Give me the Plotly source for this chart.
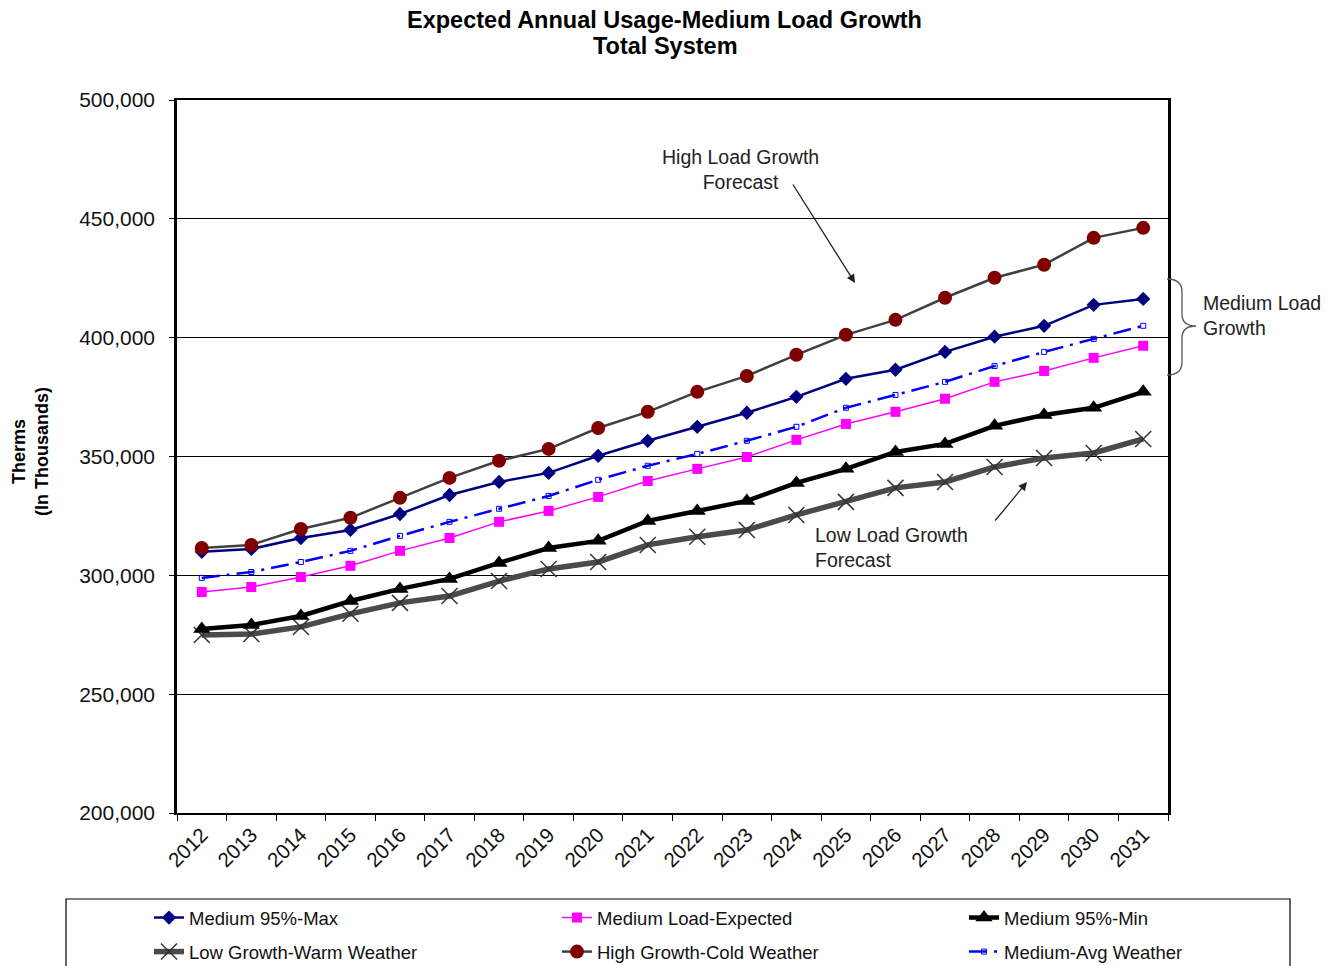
import plotly.graph_objects as go

years = [str(y) for y in range(2012, 2032)]
y_ticks = [200000, 250000, 300000, 350000, 400000, 450000, 500000]
y_tick_labels = ["200,000", "250,000", "300,000", "350,000", "400,000", "450,000", "500,000"]

medium_max = [309900, 311100, 315700, 319100, 325800, 333800, 339300, 343100, 350300, 356600,
              362500, 368400, 375100, 382700, 386500, 394000, 400400, 405000, 413800, 416300]
medium_expected = [293000, 295100, 299300, 304000, 310300, 315700, 322500, 327100, 333000, 339700,
                   344800, 349800, 357000, 363700, 368800, 374300, 381400, 386000, 391500, 396600]
medium_min = [277400, 279100, 282900, 289200, 294300, 298500, 305200, 311500, 314500, 322900,
              327100, 331300, 338900, 344800, 351900, 355300, 362900, 367500, 370500, 377200]
low_warm = [274900, 275300, 278300, 283800, 288400, 291300, 297600, 302700, 305600, 312800,
            316200, 319100, 325400, 330900, 336800, 339300, 345600, 349400, 351500, 357400]
high_cold = [311500, 312800, 319500, 324200, 332600, 341000, 348200, 353200, 362000, 368800,
             377200, 383900, 392800, 401200, 407500, 416800, 425200, 430700, 442000, 446200]
medium_avg = [298900, 301400, 305600, 310300, 316600, 322500, 328000, 333400, 340200, 346100,
              351100, 356600, 362500, 370500, 375900, 381400, 388100, 394000, 399500, 405000]

# page is 1337x966; the figure div sits at (8, 8) because of the body margin
OFF = 8
WF, HF = 1337 - OFF, 966 - OFF
L, R, T, B = 177, 1168, 100, 813   # plot area in page pixels
FONT = "Liberation Sans, Arial, sans-serif"


def px(x):
    return (x - L) / (R - L)


def py(y):
    return (B - y) / (B - T)


def cx(x):
    return (x - OFF) / WF


def cy(y):
    return 1 - (y - OFF) / HF


fig = go.Figure()

fig.add_trace(go.Scatter(x=years, y=medium_max, name="Medium 95%-Max", mode="lines+markers",
                         line=dict(color="#000080", width=2.5),
                         marker=dict(symbol="diamond", size=11, color="#000080"),
                         legend="legend", legendgroup="a"))
fig.add_trace(go.Scatter(x=years, y=low_warm, name="Low Growth-Warm Weather", mode="lines+markers",
                         line=dict(color="#4a4a4a", width=5.5),
                         marker=dict(symbol="x-thin", size=16, color="#333333",
                                     line=dict(color="#333333", width=1.5)),
                         legend="legend", legendgroup="b"))
fig.add_trace(go.Scatter(x=years, y=medium_expected, name="Medium Load-Expected", mode="lines+markers",
                         line=dict(color="#FF00FF", width=1.5),
                         marker=dict(symbol="square", size=10, color="#FF00FF"),
                         legend="legend2", legendgroup="c"))
fig.add_trace(go.Scatter(x=years, y=high_cold, name="High Growth-Cold Weather", mode="lines+markers",
                         line=dict(color="#404040", width=2.5),
                         marker=dict(symbol="circle", size=14, color="#800000"),
                         legend="legend2", legendgroup="d"))
fig.add_trace(go.Scatter(x=years, y=medium_min, name="Medium 95%-Min", mode="lines+markers",
                         line=dict(color="#000000", width=4.5),
                         marker=dict(symbol="triangle-up", size=15, color="#000000"),
                         legend="legend3", legendgroup="e"))
fig.add_trace(go.Scatter(x=years, y=medium_avg, name="Medium-Avg Weather", mode="lines+markers",
                         line=dict(color="#0000FF", width=2.5, dash="18px,7px,3px,7px"),
                         marker=dict(symbol="square-open", size=5, color="#0000FF",
                                     line=dict(color="#0000FF", width=1)),
                         legend="legend3", legendgroup="f"))

leg_common = dict(orientation="v", xref="container", yref="container", xanchor="left", yanchor="top",
                  font=dict(family=FONT, size=18.5, color="#111111"), bgcolor="rgba(0,0,0,0)",
                  tracegroupgap=7, itemwidth=30)
leg_top = cy(899)

annotations = [
    dict(text="<b>Expected Annual Usage-Medium Load Growth</b>", xref="paper", yref="paper",
         x=px(664), y=py(20), xanchor="center", yanchor="middle", showarrow=False,
         font=dict(family=FONT, size=23.5, color="#000000")),
    dict(text="<b>Total System</b>", xref="paper", yref="paper",
         x=px(665), y=py(46), xanchor="center", yanchor="middle", showarrow=False,
         font=dict(family=FONT, size=23.5, color="#000000")),
    dict(text="<b>Therms<br>(In Thousands)</b>", xref="paper", yref="paper", x=px(30), y=py(452),
         xanchor="center", yanchor="middle", textangle=-90, showarrow=False,
         font=dict(family=FONT, size=18, color="#000000")),
    dict(text="High Load Growth<br>Forecast", xref="paper", yref="paper", x=px(740), y=py(169),
         xanchor="center", yanchor="middle", showarrow=False,
         font=dict(family=FONT, size=19.5, color="#222222")),
    dict(text="", xref="paper", yref="paper", x=px(855), y=py(283), ax=-63, ay=-100,
         showarrow=True, arrowhead=2, arrowsize=1.3, arrowwidth=1.3, arrowcolor="#222222"),
    dict(text="Low Load Growth<br>Forecast", xref="paper", yref="paper", x=px(813), y=py(547),
         xanchor="left", yanchor="middle", showarrow=False, align="left",
         font=dict(family=FONT, size=19.5, color="#222222")),
    dict(text="", xref="paper", yref="paper", x=px(1027), y=py(482), ax=-33, ay=40,
         showarrow=True, arrowhead=2, arrowsize=1.3, arrowwidth=1.3, arrowcolor="#222222"),
    dict(text="Medium Load<br>Growth", xref="paper", yref="paper", x=px(1201), y=py(315),
         xanchor="left", yanchor="middle", showarrow=False, align="left",
         font=dict(family=FONT, size=19.5, color="#222222")),
]

brace = (f"M {px(1167)},{py(279)} Q {px(1182)},{py(279)} {px(1182)},{py(292)} "
         f"L {px(1182)},{py(314)} Q {px(1182)},{py(326)} {px(1196)},{py(326)} "
         f"Q {px(1182)},{py(326)} {px(1182)},{py(338)} "
         f"L {px(1182)},{py(362)} Q {px(1182)},{py(375)} {px(1167)},{py(375)}")

shapes = [
    dict(type="path", xref="paper", yref="paper", path=brace, line=dict(color="#555555", width=1.3)),
    dict(type="rect", xref="paper", yref="paper", x0=px(66), x1=px(1290), y0=py(899), y1=py(990),
         line=dict(color="#000000", width=1.2), fillcolor="rgba(0,0,0,0)"),
]

fig.update_layout(
    width=WF, height=HF,
    margin=dict(l=L - OFF, r=WF - (R - OFF), t=T - OFF, b=HF - (B - OFF), autoexpand=False),
    plot_bgcolor="white", paper_bgcolor="white",
    font=dict(family=FONT, size=19, color="#111111"),
    showlegend=True,
    legend=dict(leg_common, x=cx(189 - 40), y=leg_top),
    legend2=dict(leg_common, x=cx(597 - 40), y=leg_top),
    legend3=dict(leg_common, x=cx(1004 - 40), y=leg_top),
    annotations=annotations,
    shapes=shapes,
    xaxis=dict(type="category", categoryorder="array", categoryarray=years,
               showgrid=False, showline=True, linecolor="#000000", linewidth=1.5, mirror=True,
               ticks="outside", tickson="boundaries", ticklen=6, tickcolor="#000000",
               tickangle=-45, tickfont=dict(family=FONT, size=20.5, color="#111111"),
               range=[-0.5, 19.5]),
    yaxis=dict(range=[200000, 500000], tickvals=y_ticks, ticktext=y_tick_labels,
               showgrid=True, gridcolor="#000000", gridwidth=1,
               showline=True, linecolor="#000000", linewidth=2.5, mirror=True,
               ticks="outside", ticklen=5, tickcolor="#000000", ticklabelstandoff=10,
               tickfont=dict(family=FONT, size=21, color="#111111"), zeroline=False),
)

fig.write_html("out.html")
